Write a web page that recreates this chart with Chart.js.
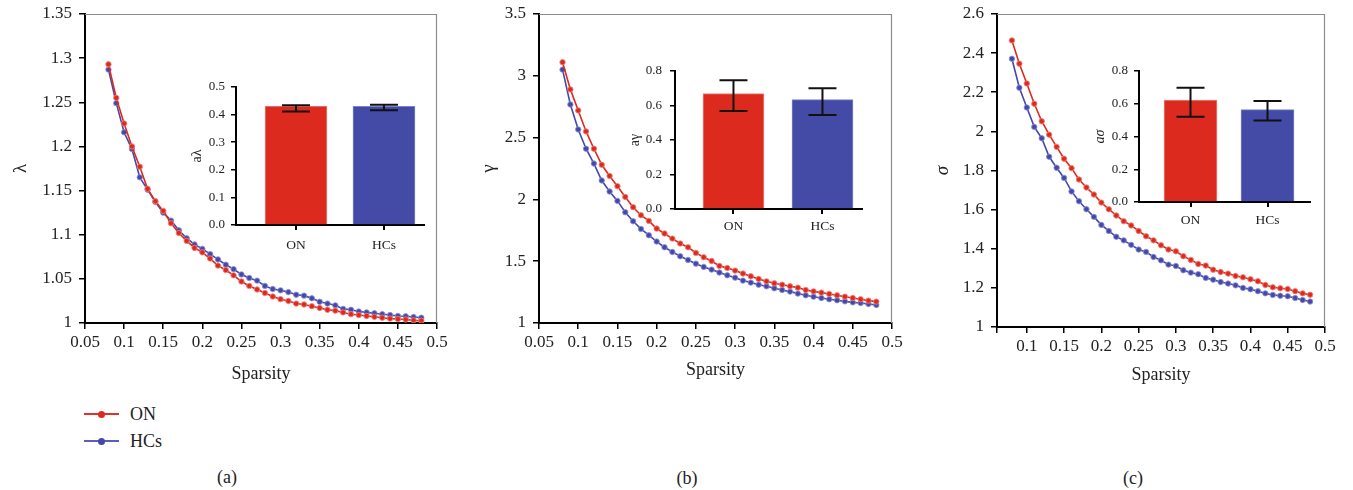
<!DOCTYPE html>
<html><head><meta charset="utf-8">
<script src="https://cdn.jsdelivr.net/npm/chart.js@4.4.0/dist/chart.umd.min.js"></script>
<style>
body{margin:0;background:#fff;width:1353px;height:490px;overflow:hidden;position:relative;font-family:"Liberation Serif","DejaVu Serif",serif;color:#222;}
canvas{position:absolute;}
.lbl{position:absolute;font-size:18px;transform:translate(-50%,-50%);white-space:nowrap;}
.legtxt{position:absolute;font-size:18px;transform:translateY(-50%);white-space:nowrap;}
.legline{position:absolute;height:2px;width:35px;}
.legdot{position:absolute;width:7px;height:7px;border-radius:50%;}
</style></head><body>
<div class="legline" style="left:84px;top:413px;background:#e0322a"></div>
<div class="legdot" style="left:98px;top:410.5px;background:#dd2a1f"></div>
<div class="legtxt" style="left:130px;top:414px">ON</div>
<div class="legline" style="left:84px;top:440px;background:#5a5eb8"></div>
<div class="legdot" style="left:98px;top:437.5px;background:#4448a8"></div>
<div class="legtxt" style="left:130px;top:441px">HCs</div>
<div class="lbl" style="left:227px;top:477px">(a)</div>
<div class="lbl" style="left:687px;top:478px">(b)</div>
<div class="lbl" style="left:1133px;top:478px">(c)</div>
<script>
// ---------- data ----------
const sparsity = [0.08,0.09,0.10,0.11,0.12,0.13,0.14,0.15,0.16,0.17,0.18,0.19,0.20,0.21,0.22,0.23,0.24,0.25,0.26,0.27,0.28,0.29,0.30,0.31,0.32,0.33,0.34,0.35,0.36,0.37,0.38,0.39,0.40,0.41,0.42,0.43,0.44,0.45,0.46,0.47,0.48];
const lambdaON = [1.293,1.255,1.226,1.200,1.177,1.152,1.138,1.127,1.113,1.102,1.093,1.085,1.080,1.073,1.065,1.060,1.054,1.047,1.042,1.038,1.034,1.030,1.027,1.025,1.022,1.021,1.019,1.017,1.015,1.014,1.012,1.010,1.009,1.008,1.007,1.006,1.005,1.0045,1.004,1.003,1.0026];
const lambdaHC = [1.287,1.249,1.216,1.197,1.165,1.151,1.137,1.125,1.116,1.105,1.096,1.089,1.084,1.078,1.072,1.066,1.061,1.055,1.051,1.048,1.042,1.0385,1.037,1.035,1.032,1.031,1.028,1.024,1.022,1.020,1.016,1.015,1.013,1.012,1.011,1.010,1.009,1.008,1.0076,1.0068,1.006];
const gammaON = [3.11,2.89,2.72,2.55,2.41,2.28,2.19,2.107,2.02,1.937,1.872,1.826,1.764,1.724,1.683,1.643,1.613,1.567,1.532,1.502,1.462,1.445,1.424,1.40,1.378,1.356,1.337,1.321,1.310,1.297,1.286,1.267,1.256,1.246,1.235,1.224,1.213,1.202,1.192,1.181,1.173];
const gammaHC = [3.05,2.768,2.566,2.41,2.29,2.153,2.064,1.988,1.896,1.823,1.761,1.71,1.659,1.613,1.575,1.54,1.51,1.48,1.454,1.432,1.408,1.386,1.367,1.343,1.327,1.310,1.297,1.281,1.267,1.254,1.238,1.224,1.213,1.202,1.192,1.184,1.175,1.167,1.162,1.154,1.146];
const sigmaON = [2.465,2.346,2.245,2.141,2.052,1.983,1.921,1.86,1.812,1.754,1.713,1.677,1.636,1.602,1.57,1.541,1.519,1.491,1.464,1.443,1.418,1.396,1.387,1.362,1.343,1.322,1.314,1.293,1.281,1.273,1.261,1.254,1.244,1.234,1.215,1.203,1.198,1.194,1.183,1.172,1.165];
const sigmaHC = [2.371,2.223,2.122,2.023,1.965,1.870,1.814,1.762,1.693,1.643,1.602,1.563,1.522,1.491,1.461,1.443,1.42,1.396,1.384,1.358,1.341,1.319,1.312,1.29,1.278,1.27,1.251,1.242,1.230,1.222,1.213,1.20,1.193,1.183,1.172,1.164,1.160,1.157,1.148,1.138,1.13];

const groups = ['ON','HCs'];
const aLambdaMean = [0.431,0.430];
const aLambdaLow  = [0.411,0.416];
const aLambdaHigh = [0.434,0.436];
const aGammaMean = [0.669,0.634];
const aGammaLow  = [0.568,0.545];
const aGammaHigh = [0.746,0.700];
const aSigmaMean = [0.623,0.564];
const aSigmaLow  = [0.520,0.498];
const aSigmaHigh = [0.697,0.617];

const xTicksMain = [0.05,0.1,0.15,0.2,0.25,0.3,0.35,0.4,0.45,0.5];
const xLabelsMain = ['0.05','0.1','0.15','0.2','0.25','0.3','0.35','0.4','0.45','0.5'];
const xTicksC = [0.06,0.1,0.15,0.2,0.25,0.3,0.35,0.4,0.45,0.5];
const xLabelsC = ['','0.1','0.15','0.2','0.25','0.3','0.35','0.4','0.45','0.5'];
const yTicksA = [1,1.05,1.1,1.15,1.2,1.25,1.3,1.35];
const yTicksB = [1,1.5,2,2.5,3,3.5];
const yTicksC = [1,1.2,1.4,1.6,1.8,2,2.2,2.4,2.6];
const yTicksInsetA = [0,0.1,0.2,0.3,0.4,0.5];
const yTicksInsetBC = [0,0.2,0.4,0.6,0.8];

// ---------- styling ----------
const RED = '#dd2a1f', BLUE = '#4448a8';
const FAM = "'Liberation Serif','DejaVu Serif',serif";
Chart.defaults.font.family = FAM;
Chart.defaults.color = '#222';
function fmt(v){ return String(parseFloat(Number(v).toFixed(2))); }

function makeCanvas(b){
  const c = document.createElement('canvas');
  c.width = b.w; c.height = b.h;
  c.style.left = b.x+'px'; c.style.top = b.y+'px';
  c.style.width = b.w+'px'; c.style.height = b.h+'px';
  document.body.appendChild(c);
  return c;
}
const framePlugin = { id:'frame', afterDraw(chart){
  const {ctx, chartArea:a} = chart;
  ctx.save(); ctx.strokeStyle='#8c8c8c'; ctx.lineWidth=1.2;
  ctx.beginPath(); ctx.moveTo(a.left, a.top+0.5); ctx.lineTo(a.right-0.5, a.top+0.5); ctx.lineTo(a.right-0.5, a.bottom);
  ctx.stroke(); ctx.restore();
}};
function errorBars(low, high){ return { id:'err', afterDatasetsDraw(chart){
  const {ctx} = chart, xs = chart.scales.x, ys = chart.scales.y;
  ctx.save(); ctx.strokeStyle='#111'; ctx.lineWidth=2;
  low.forEach((lo,i)=>{
    const x = xs.getPixelForValue(i+1), y1 = ys.getPixelForValue(lo), y2 = ys.getPixelForValue(high[i]);
    ctx.beginPath();
    ctx.moveTo(x,y1); ctx.lineTo(x,y2);
    ctx.moveTo(x-14,y1); ctx.lineTo(x+14,y1);
    ctx.moveTo(x-14,y2); ctx.lineTo(x+14,y2);
    ctx.stroke();
  });
  ctx.restore();
}}; }

function lineDs(label, vals, color, halo){
  return { label, data: sparsity.map((x,i)=>({x, y: vals[i]})), borderColor: color, backgroundColor: color,
    borderWidth: 1.6, pointRadius: 2.7, pointBackgroundColor: color, pointBorderColor: halo, pointBorderWidth: 1, tension: 0 };
}

function mainChart(cfg){
  const b = cfg.box, a = cfg.area;
  return new Chart(makeCanvas(b), {
    type:'line',
    data:{ datasets:[ lineDs('ON', cfg.on, RED, 'rgba(240,130,120,0.85)'), lineDs('HCs', cfg.hc, BLUE, 'rgba(140,145,215,0.85)') ] },
    options:{
      responsive:false, animation:false, events:[],
      layout:{ padding:{ left:0, top:a.T-b.y, right:b.x+b.w-a.R, bottom:0 } },
      plugins:{ legend:{display:false}, tooltip:{enabled:false} },
      scales:{
        x:{ type:'linear', min:cfg.xMin, max:0.5,
          afterBuildTicks: s => { s.ticks = cfg.xTicks.map(v=>({value:v})); },
          afterFit: s => { s.height = b.y+b.h-a.B; s.paddingLeft = 0; s.paddingRight = 0; },
          ticks:{ autoSkip:false, maxRotation:0, padding:3, font:{family:FAM, size:17}, color:'#222', callback:(v,i)=>cfg.xLabels[i] },
          grid:{ drawOnChartArea:false, drawTicks:true, tickLength:6, color:'#000', lineWidth:1.5 },
          border:{ color:'#000', width:2 },
          title:{ display:true, text:'Sparsity', font:{family:FAM, size:18}, color:'#222', padding:{top:0,bottom:cfg.xtPad} } },
        y:{ type:'linear', min:cfg.yTicks[0], max:cfg.yTicks[cfg.yTicks.length-1],
          afterBuildTicks: s => { s.ticks = cfg.yTicks.map(v=>({value:v})); },
          afterFit: s => { s.width = a.L-b.x; s.paddingTop = 0; s.paddingBottom = 0; },
          ticks:{ autoSkip:false, padding:7, font:{family:FAM, size:17}, color:'#222', callback:v=>fmt(v) },
          grid:{ drawOnChartArea:false, drawTicks:true, tickLength:6, color:'#000', lineWidth:1.5 },
          border:{ color:'#000', width:2 },
          title:{ display:true, text:cfg.yTitle, font:{family:FAM, size:19, style:cfg.italic?'italic':'normal'}, color:'#222', padding:{top:cfg.ytPad,bottom:0} } }
      }
    },
    plugins:[framePlugin]
  });
}

function insetChart(cfg){
  const b = cfg.box, a = cfg.area;
  return new Chart(makeCanvas(b), {
    type:'bar',
    data:{ datasets:[{ data: cfg.means.map((m,i)=>({x:i+1, y:m})),
      backgroundColor:['#dc2b1e','#444ba6'], borderColor:['#e9867d','#7d82c8'], borderWidth:1, barThickness:cfg.barW }] },
    options:{
      responsive:false, animation:false, events:[],
      layout:{ padding:{ left:0, top:a.T-b.y, right:b.x+b.w-a.R, bottom:0 } },
      plugins:{ legend:{display:false}, tooltip:{enabled:false} },
      scales:{
        x:{ type:'linear', min:cfg.xMin, max:cfg.xMax, offset:false,
          afterBuildTicks: s => { s.ticks = groups.map((g,i)=>({value:i+1})); },
          afterFit: s => { s.height = b.y+b.h-a.B; s.paddingLeft = 0; s.paddingRight = 0; },
          ticks:{ autoSkip:false, maxRotation:0, padding:cfg.xPad, font:{family:FAM, size:13.5}, color:'#222', callback:(v,i)=>groups[i] },
          grid:{ offset:false, drawOnChartArea:false, drawTicks:true, tickLength:5, color:'#000', lineWidth:2 },
          border:{ color:'#000', width:2 } },
        y:{ type:'linear', min:0, max:cfg.yTicks[cfg.yTicks.length-1],
          afterBuildTicks: s => { s.ticks = cfg.yTicks.map(v=>({value:v})); },
          afterFit: s => { s.width = a.L-b.x; s.paddingTop = 0; s.paddingBottom = 0; },
          ticks:{ autoSkip:false, padding:cfg.yPad, font:{family:FAM, size:13}, color:'#222', callback:v=>Number(v).toFixed(1) },
          grid:{ drawOnChartArea:false, drawTicks:true, tickLength:5, color:'#000', lineWidth:1.5 },
          border:{ color:'#000', width:2 },
          title:{ display:true, text:cfg.yTitle, font:{family:FAM, size:14, style:cfg.italic?'italic':'normal'}, color:'#222', padding:{top:cfg.ytPad,bottom:0} } }
      }
    },
    plugins:[errorBars(cfg.low, cfg.high)]
  });
}

// ---------- main panels ----------
mainChart({ box:{x:0,y:0,w:460,h:400}, area:{L:85,T:14,R:437,B:323}, on:lambdaON, hc:lambdaHC,
  xMin:0.05, xTicks:xTicksMain, xLabels:xLabelsMain, yTicks:yTicksA, yTitle:'λ', ytPad:10, xtPad:15 });
mainChart({ box:{x:460,y:0,w:450,h:400}, area:{L:539,T:14,R:892,B:323}, on:gammaON, hc:gammaHC,
  xMin:0.05, xTicks:xTicksMain, xLabels:xLabelsMain, yTicks:yTicksB, yTitle:'γ', ytPad:18, xtPad:19 });
mainChart({ box:{x:920,y:0,w:433,h:400}, area:{L:997,T:14,R:1325,B:327}, on:sigmaON, hc:sigmaHC,
  xMin:0.06, xTicks:xTicksC, xLabels:xLabelsC, yTicks:yTicksC, yTitle:'σ', italic:true, ytPad:12, xtPad:14 });

// ---------- insets ----------
insetChart({ box:{x:180,y:75,w:260,h:180}, area:{L:236,T:87,R:424,B:225}, means:aLambdaMean, low:aLambdaLow, high:aLambdaHigh,
  xMin:0.318, xMax:2.455, barW:62, yTicks:yTicksInsetA, yTitle:'aλ', ytPad:9, xPad:7, yPad:6 });
insetChart({ box:{x:615,y:58,w:265,h:180}, area:{L:675,T:71,R:862,B:209}, means:aGammaMean, low:aGammaLow, high:aGammaHigh,
  xMin:0.343, xMax:2.444, barW:61, yTicks:yTicksInsetBC, yTitle:'aγ', ytPad:12, xPad:4, yPad:8 });
insetChart({ box:{x:1080,y:58,w:250,h:170}, area:{L:1139,T:71,R:1310,B:202}, means:aSigmaMean, low:aSigmaLow, high:aSigmaHigh,
  xMin:0.331, xMax:2.552, barW:53, yTicks:yTicksInsetBC, yTitle:'aσ', italic:true, ytPad:12, xPad:5, yPad:6 });
</script>
</body></html>
